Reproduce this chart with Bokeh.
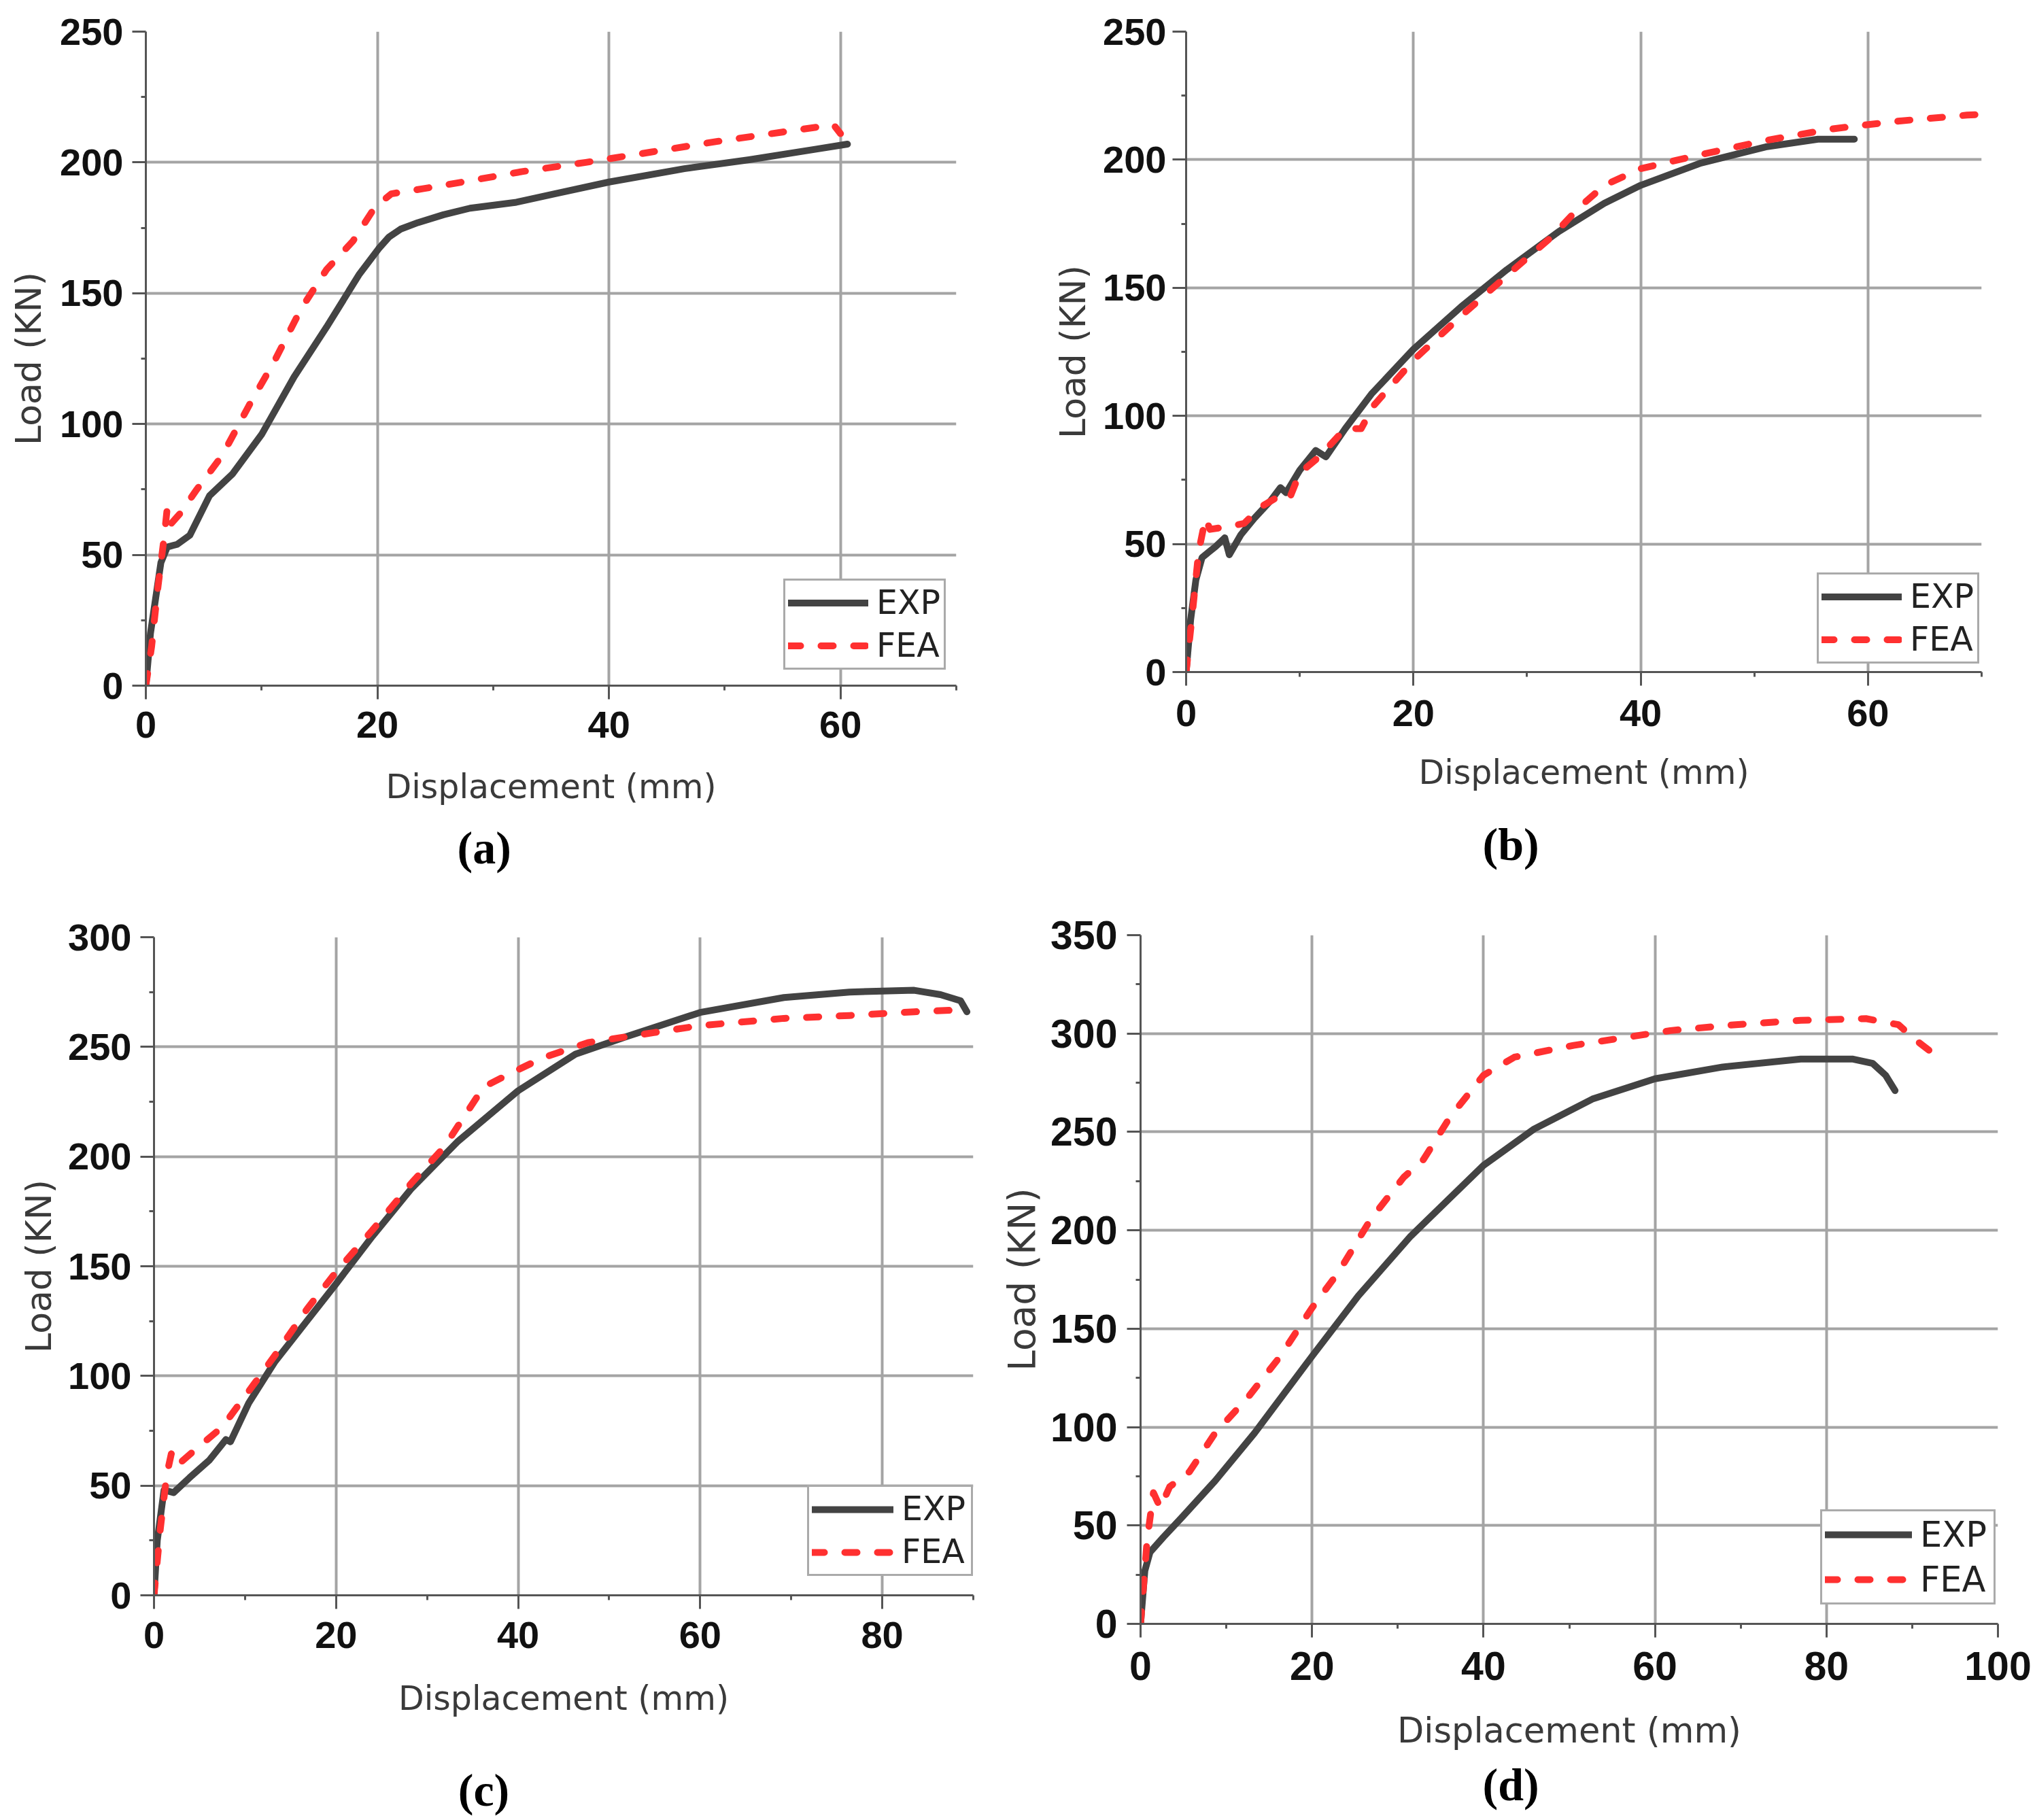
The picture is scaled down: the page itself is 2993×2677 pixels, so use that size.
from bokeh.plotting import figure
from bokeh.models import Range1d, FixedTicker, Legend, LegendItem, Title, Label
from bokeh.embed import file_html
from bokeh.resources import INLINE

# ---------------- data ----------------
a_exp_x = [0, 0.4, 1.0, 1.3, 1.85, 2.7, 3.8, 5.5, 7.5, 10, 12.8, 15.6, 18.4, 20.1, 21.0, 22.0, 23.5, 25.7, 28.0, 31.9, 35.3, 40, 46.5, 52.1, 57.8, 60.6]
a_exp_y = [0, 20, 38, 47, 53, 54, 57.5, 72.6, 81, 96, 118, 137, 157, 167, 171.5, 174.5, 177, 180, 182.5, 184.7, 188, 192.5, 197.6, 201, 205, 207]
a_fea_x = [0, 0.5, 1.0, 1.6, 1.85, 2.2, 3.0, 4.4, 6.6, 8.9, 11.1, 13.4, 15.6, 17.9, 19.8, 21.2, 24, 28, 32.5, 38, 43.7, 49.3, 55, 59.4, 60]
a_fea_y = [0, 15, 36, 57.5, 68, 62, 66, 75, 88, 107, 124, 144, 159, 170, 183, 188, 190, 193, 196.5, 200, 204, 208, 211.6, 214.4, 211]

b_exp_x = [0, 0.4, 0.86, 1.4, 2.6, 3.4, 3.8, 4.8, 6.0, 7.4, 8.3, 8.8, 10, 11.4, 12.3, 14, 16.3, 20, 24.2, 28.2, 32.8, 36.8, 40, 45.3, 51, 55.6, 58.8]
b_exp_y = [0, 20.5, 36, 44.7, 49, 52.4, 45.8, 53.5, 60, 66.7, 72, 70, 78.8, 86.5, 84, 95, 108.5, 126, 142.6, 157, 172, 183, 190, 198.7, 205, 208, 208]
b_fea_x = [0, 0.6, 1.1, 1.7, 2.1, 3.7, 5.1, 6.6, 8.3, 9.1, 10, 11.7, 14, 15.4, 16.5, 20, 24.2, 28.8, 32.2, 34.5, 36.8, 40, 45.3, 51, 56.8, 62.5, 68.7, 69.6]
b_fea_y = [0, 25, 47, 60, 55.7, 56.8, 58, 64.5, 69, 67.8, 77.7, 84, 95, 95, 104, 121.7, 139, 157, 170, 181, 190, 196.5, 202, 207.5, 212, 215, 217.4, 217.6]

c_exp_x = [0, 0.36, 1.1, 2.15, 3.9, 6.1, 7.9, 8.4, 10.4, 13.3, 16.9, 20, 24, 28.3, 33.4, 40, 46.3, 52, 60, 69.2, 76.4, 83.5, 86.4, 88.6, 89.3]
c_exp_y = [0, 25, 48, 46.8, 53.6, 61.7, 71, 70, 87.6, 106.6, 125.6, 142, 163.7, 185.5, 207, 230, 246.7, 254.8, 265.7, 272.5, 275, 275.8, 273.8, 271, 266]
c_fea_x = [0, 0.7, 1.4, 1.9, 2.5, 4.7, 7.5, 10.4, 13.3, 16.9, 20, 24, 28.3, 31.9, 36.2, 38.7, 42.7, 47.7, 54.9, 60, 69.2, 76.4, 83.5, 89.3]
c_fea_y = [0, 30.5, 55, 64.5, 59, 67, 76.7, 93, 109.5, 131, 147.4, 166.5, 188, 204.5, 231.7, 237, 245, 252, 256.5, 259.7, 263, 264.3, 266, 267]

d_exp_x = [0, 0.5, 1.1, 2.65, 4.9, 8.7, 13.3, 20, 25.4, 31.5, 40, 45.9, 52.7, 60, 67.9, 77, 83.1, 85.4, 86.9, 88]
d_exp_y = [0, 27, 36.4, 44, 54.5, 72.7, 97, 136, 166.7, 197, 233, 251.5, 266.7, 277, 283, 287, 287, 284.8, 278.8, 271]
d_fea_x = [0, 0.76, 1.5, 2.3, 3.4, 5.7, 8.7, 12.5, 16.3, 20, 23.1, 26.9, 30.7, 33, 36.1, 40, 43.6, 50.5, 57.3, 61.8, 69.4, 77, 84.6, 88.4, 90.3, 92.6]
d_fea_y = [0, 42.4, 66.7, 59, 69.7, 77.3, 97, 115, 136, 160.6, 178.8, 206, 227, 236, 257.6, 278.8, 288, 294, 298.5, 301.5, 304.5, 306.7, 307.6, 304.5, 297, 289.4]

series_labels = ["EXP", "FEA"]
x_title = "Displacement (mm)"
y_title = "Load (KN)"
captions = ["(a)", "(b)", "(c)", "(d)"]

a_xticks = [0, 20, 40, 60]
a_yticks = [0, 50, 100, 150, 200, 250]
b_xticks = [0, 20, 40, 60]
b_yticks = [0, 50, 100, 150, 200, 250]
c_xticks = [0, 20, 40, 60, 80]
c_yticks = [0, 50, 100, 150, 200, 250, 300]
d_xticks = [0, 20, 40, 60, 80, 100]
d_yticks = [0, 50, 100, 150, 200, 250, 300, 350]
x_limits = [70, 70, 90, 100]
y_limits = [250, 250, 300, 350]

# ---------------- styling ----------------
AXIS_COLOR = "#555555"
GRID_COLOR = "#a4a4a4"
EXP_COLOR = "#434343"
FEA_COLOR = "#ff3030"
CAP_FONT = dict(text_font="Liberation Serif", text_font_style="bold",
                text_font_size="68px", text_color="black")


def make_panel(exp_x, exp_y, fea_x, fea_y, xmax, ymax, xticks, yticks, caption, cfg):
    cl, ct, cw, ch = cfg["canvas"]
    fl, ft, fr, fb = cfg["frame"]
    s = cfg.get("s", 1.0)
    p = figure(width=cw, height=ch, x_range=Range1d(0, xmax), y_range=Range1d(0, ymax),
               output_backend="svg", toolbar_location=None,
               min_border_left=fl - cl, min_border_right=cl + cw - fr,
               min_border_top=ft - ct, min_border_bottom=ct + ch - fb,
               styles={"position": "absolute", "left": f"{cl}px", "top": f"{ct}px"})
    p.outline_line_color = None
    p.background_fill_color = "white"
    p.border_fill_color = "white"

    xstep = xticks[1] - xticks[0]
    ystep = yticks[1] - yticks[0]
    xminor = [t + xstep / 2 for t in xticks if t + xstep / 2 <= xmax]
    yminor = [t + ystep / 2 for t in yticks if t + ystep / 2 <= ymax]
    p.xaxis.ticker = FixedTicker(ticks=xticks, minor_ticks=xminor)
    p.yaxis.ticker = FixedTicker(ticks=yticks, minor_ticks=yminor)
    p.xgrid.ticker = FixedTicker(ticks=[t for t in xticks if 0 < t < xmax])
    p.ygrid.ticker = FixedTicker(ticks=[t for t in yticks if 0 < t < ymax])
    for g in (p.xgrid, p.ygrid):
        g.grid_line_color = GRID_COLOR
        g.grid_line_width = 4

    for ax in (p.xaxis, p.yaxis):
        ax.axis_line_color = AXIS_COLOR
        ax.axis_line_width = 3
        ax.major_tick_line_color = AXIS_COLOR
        ax.major_tick_line_width = 3
        ax.minor_tick_line_color = AXIS_COLOR
        ax.minor_tick_line_width = 3
        ax.major_tick_in = 0
        ax.major_tick_out = 20
        ax.minor_tick_in = 0
        ax.minor_tick_out = 7
        ax.major_label_text_font = "Liberation Sans"
        ax.major_label_text_font_style = "bold"
        ax.major_label_text_font_size = f"{round(56 * s)}px"
        ax.major_label_text_color = "#111111"
        ax.axis_label_text_font = "DejaVu Sans"
        ax.axis_label_text_font_style = "normal"
        ax.axis_label_text_color = "#3a3a3a"
    p.xaxis.axis_label_text_font_size = f"{round(49 * s)}px"
    p.yaxis.axis_label_text_font_size = f"{round(52 * s)}px"
    p.xaxis.axis_label = x_title
    p.yaxis.axis_label = y_title
    p.xaxis.major_label_standoff = cfg["xs"]
    p.xaxis.axis_label_standoff = cfg["xls"]
    p.yaxis.major_label_standoff = cfg["ys"]
    p.yaxis.axis_label_standoff = cfg["yls"]

    r1 = p.line(exp_x, exp_y, line_color=EXP_COLOR, line_width=10, line_join="round", line_cap="round")
    r2 = p.line(fea_x, fea_y, line_color=FEA_COLOR, line_width=10, line_dash="18 30",
                line_cap="round", line_join="round")

    lx, ly, gw, gh, lw = cfg["legend"]
    legend = Legend(items=[LegendItem(label=series_labels[0], renderers=[r1]),
                           LegendItem(label=series_labels[1], renderers=[r2])],
                    location=(lx, ly))
    legend.glyph_width = gw
    legend.glyph_height = gh
    legend.label_height = gh
    legend.label_width = lw
    legend.label_standoff = 12
    legend.padding = 4
    legend.spacing = 6
    legend.margin = 0
    legend.label_text_font = "DejaVu Sans"
    legend.label_text_font_size = f"{round(49 * s)}px"
    legend.label_text_color = "#222222"
    legend.border_line_color = AXIS_COLOR
    legend.border_line_width = 3
    legend.background_fill_color = "white"
    legend.background_fill_alpha = 1.0
    p.add_layout(legend)

    if "cap_px" in cfg:
        # caption centre given in page pixels; converted to the plot's own scale
        px, py = cfg["cap_px"]
        cx = (px - fl) / (fr - fl) * xmax
        cy = (fb - py) / (fb - ft) * ymax
        p.add_layout(Label(x=cx, y=cy, x_units="data", y_units="data", text=caption,
                           text_align="center", text_baseline="middle", **CAP_FONT), "below")
    else:
        t = Title(text=caption, align="left", offset=cfg["cap_off"],
                  standoff=cfg["cap_s"], **CAP_FONT)
        p.add_layout(t, "below")
    return p


cfg_a = dict(canvas=(0, 0, 1480, 1320), frame=(214, 46, 1406, 1008),
             xs=18, xls=41, ys=13, yls=13, cap_s=36, cap_off=458,
             legend=(938, 23, 118, 55, 95))
cfg_b = dict(canvas=(1480, 0, 1508, 1320), frame=(1744, 46, 2914, 988),
             xs=21, xls=37, ys=9, yls=11, cap_s=69, cap_off=436,
             legend=(928, 12, 118, 55, 95))
cfg_c = dict(canvas=(0, 1320, 1460, 1357), frame=(226, 1378, 1431, 2346),
             xs=19, xls=43, ys=13, yls=10, cap_px=(711, 2632),
             legend=(961, 28, 120, 56, 98))
cfg_d = dict(canvas=(1460, 1320, 1530, 1357), frame=(1677, 1375, 2938, 2388),
             xs=21, xls=42, ys=14, yls=7, cap_s=14, cap_off=503,
             legend=(1000, 28, 128, 60, 104), s=1.05)

pa = make_panel(a_exp_x, a_exp_y, a_fea_x, a_fea_y, x_limits[0], y_limits[0], a_xticks, a_yticks, captions[0], cfg_a)
pb = make_panel(b_exp_x, b_exp_y, b_fea_x, b_fea_y, x_limits[1], y_limits[1], b_xticks, b_yticks, captions[1], cfg_b)
pc = make_panel(c_exp_x, c_exp_y, c_fea_x, c_fea_y, x_limits[2], y_limits[2], c_xticks, c_yticks, captions[2], cfg_c)
pd = make_panel(d_exp_x, d_exp_y, d_fea_x, d_fea_y, x_limits[3], y_limits[3], d_xticks, d_yticks, captions[3], cfg_d)

open("out.html", "w").write(file_html([pa, pb, pc, pd], INLINE))
